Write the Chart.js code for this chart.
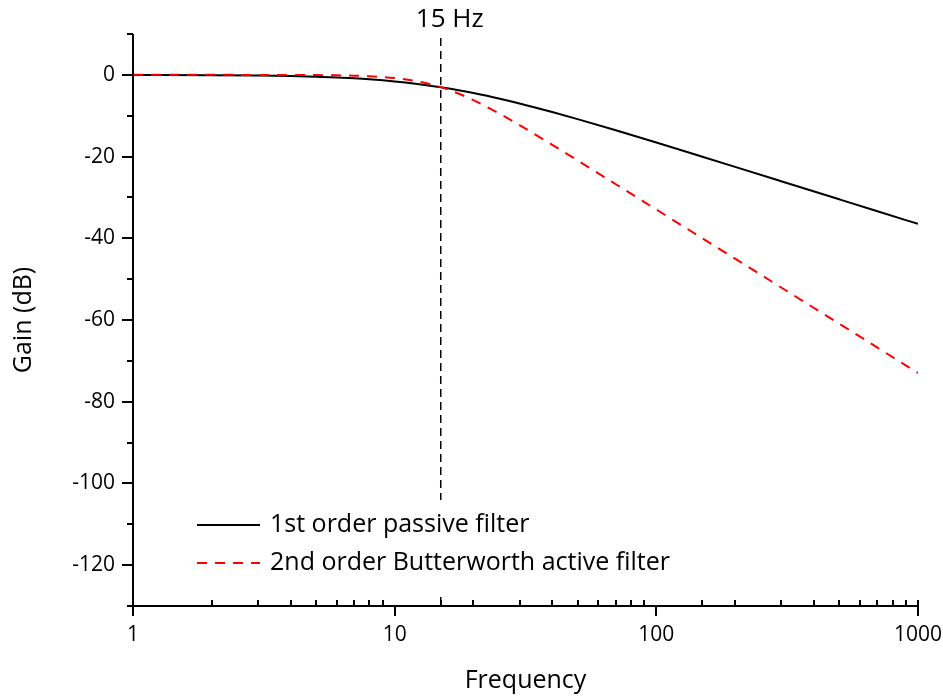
<!DOCTYPE html>
<html>
<head>
<meta charset="utf-8">
<script src="https://cdn.jsdelivr.net/npm/chart.js@4.4.1/dist/chart.umd.min.js"></script>
<style>
  html, body { margin: 0; padding: 0; background: #fff; }
  #wrap { width: 943px; height: 698px; }
</style>
</head>
<body>
<div id="wrap"><canvas id="bode"></canvas></div>
<script>
// frequency points (Hz) and gain (dB)
const freq    = [1, 2, 3, 4, 5, 6, 7, 8, 10, 12, 15, 18, 20, 25, 30, 40, 50, 70, 100, 150, 200, 300, 500, 700, 1000];
const passive = [-0.02, -0.08, -0.17, -0.30, -0.46, -0.65, -0.86, -1.09, -1.60, -2.15, -3.01, -3.87, -4.44, -5.77, -6.99, -9.09, -10.83, -13.57, -16.57, -20.04, -22.52, -26.03, -30.46, -33.38, -36.48];
const butter  = [0, 0, -0.01, -0.02, -0.05, -0.11, -0.20, -0.34, -0.78, -1.49, -3.01, -4.88, -6.19, -9.40, -12.30, -17.12, -20.95, -26.77, -32.96, -40.0, -45.0, -52.04, -60.9, -66.76, -72.96];

const cutoff = 15;
const cutoffLabel = '15 Hz';
const legendNames = ['1st order passive filter', '2nd order Butterworth active filter'];

const FONT = "'Open Sans', sans-serif";

function pts(ys){
  return freq.map((f, i) => ({x: f, y: ys[i]}));
}

function isDecade(v){
  const l = Math.log10(v);
  return Math.abs(l - Math.round(l)) < 1e-9;
}

// axes with ticks in/out, the 15 Hz marker and the legend box
const decorations = {
  id: 'decorations',
  afterDatasetsDraw(chart){
    const {ctx, chartArea: a, scales: {x, y}} = chart;
    ctx.save();

    // cutoff marker
    const cx = x.getPixelForValue(cutoff);
    ctx.strokeStyle = '#000';
    ctx.lineWidth = 1.5;
    ctx.setLineDash([8, 5]);
    ctx.beginPath();
    ctx.moveTo(cx, a.top + 4);
    ctx.lineTo(cx, a.bottom);
    ctx.stroke();
    ctx.setLineDash([]);

    ctx.fillStyle = '#000';
    ctx.font = "26px " + FONT;
    ctx.textAlign = 'center';
    ctx.textBaseline = 'middle';
    ctx.fillText(cutoffLabel, cx + 9, 20);

    // legend
    ctx.font = "25px " + FONT;
    ctx.fillStyle = '#fff';
    ctx.fillRect(190, 500, 500, 95);
    const rows = [
      {color: '#000', dash: [], y: 525},
      {color: '#ff0000', dash: [10, 8], y: 563}
    ];
    rows.forEach((r, i) => {
      ctx.strokeStyle = r.color;
      ctx.lineWidth = 2;
      ctx.setLineDash(r.dash);
      ctx.beginPath();
      ctx.moveTo(197, r.y);
      ctx.lineTo(260, r.y);
      ctx.stroke();
      ctx.setLineDash([]);
      ctx.fillStyle = '#000';
      ctx.textAlign = 'left';
      ctx.fillText(legendNames[i], 270, r.y);
    });

    ctx.restore();
  },
  afterDraw(chart){
    const {ctx, chartArea: a, scales: {x, y}} = chart;
    ctx.save();
    ctx.strokeStyle = '#000';
    ctx.lineWidth = 2;
    ctx.beginPath();
    ctx.moveTo(a.left, a.top);
    ctx.lineTo(a.left, a.bottom);
    ctx.lineTo(a.right, a.bottom);
    ctx.stroke();

    x.ticks.forEach(t => {
      const px = Math.round(x.getPixelForValue(t.value));
      ctx.beginPath();
      if (isDecade(t.value)) {
        ctx.moveTo(px, a.bottom - (t.value === 1000 ? 6 : 0));
        ctx.lineTo(px, a.bottom + 10);
      } else {
        ctx.moveTo(px, a.bottom);
        ctx.lineTo(px, a.bottom - 6);
      }
      ctx.stroke();
    });

    y.ticks.forEach(t => {
      const py = Math.round(y.getPixelForValue(t.value));
      const len = (t.value % 20 === 0) ? 11 : 6;
      ctx.beginPath();
      ctx.moveTo(a.left, py);
      ctx.lineTo(a.left - len, py);
      ctx.stroke();
    });
    ctx.restore();
  }
};

const config = {
  type: 'line',
  data: {
    datasets: [
      {
        label: legendNames[1],
        data: pts(butter),
        borderColor: '#ff0000',
        borderWidth: 2,
        borderDash: [10, 8],
        pointRadius: 0,
        cubicInterpolationMode: 'monotone',
        fill: false,
        order: 0
      },
      {
        label: legendNames[0],
        data: pts(passive),
        borderColor: '#000',
        borderWidth: 2,
        pointRadius: 0,
        cubicInterpolationMode: 'monotone',
        fill: false,
        order: 1
      }
    ]
  },
  options: {
    responsive: true,
    maintainAspectRatio: false,
    animation: false,
    layout: { padding: { left: 0, right: 25, top: 34, bottom: 0 } },
    plugins: {
      legend: { display: false },
      tooltip: { enabled: false }
    },
    scales: {
      x: {
        type: 'logarithmic',
        min: 1,
        max: 1000,
        grid: { display: false, drawTicks: false },
        border: { display: false },
        afterFit: s => { s.height = 92; s.paddingLeft = 0; s.paddingRight = 0; },
        ticks: {
          autoSkip: false,
          maxRotation: 0,
          padding: 16,
          color: '#000',
          font: { family: FONT, size: 21 },
          callback: v => isDecade(v) ? String(v) : ''
        },
        title: {
          display: true,
          text: 'Frequency',
          color: '#000',
          font: { family: FONT, size: 25 },
          padding: { top: 0, bottom: 2 }
        }
      },
      y: {
        min: -130,
        max: 10,
        grid: { display: false, drawTicks: false },
        border: { display: false },
        afterFit: s => { s.width = 133; s.paddingTop = 0; s.paddingBottom = 0; },
        ticks: {
          stepSize: 10,
          padding: 18,
          color: '#000',
          font: { family: FONT, size: 21 },
          callback: v => (v % 20 === 0 && v <= 0 && v >= -120) ? String(v) : ''
        },
        title: {
          display: true,
          text: 'Gain (dB)',
          color: '#000',
          font: { family: FONT, size: 25 },
          padding: { top: 9, bottom: 0 }
        }
      }
    }
  },
  plugins: [decorations]
};

const chart = new Chart('bode', config);
</script>
</body>
</html>
